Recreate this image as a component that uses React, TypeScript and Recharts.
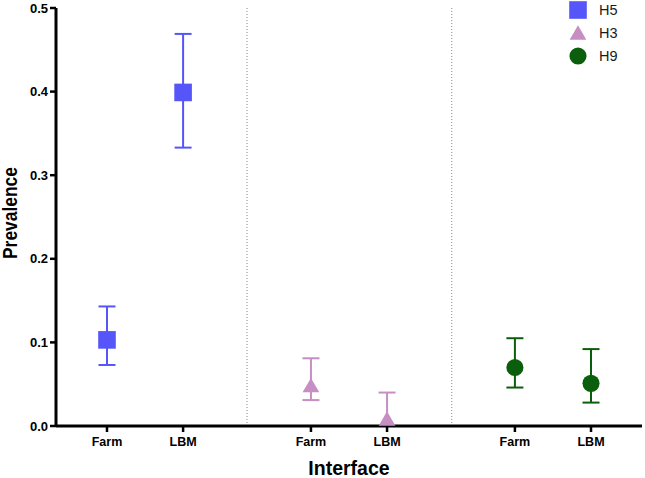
import React from 'react';
import { ScatterChart, Scatter, XAxis, YAxis, ErrorBar, ReferenceLine, Legend, Symbols } from 'recharts';

const FONT = '"Liberation Sans", Arial, Helvetica, sans-serif';

const categories = ['Farm', 'LBM'];
const seriesNames = ['H5', 'H3', 'H9'];
const seriesColors = ['#5555FA', '#C68EC2', '#0B5E0B'];
const seriesShapes = ['square', 'triangle', 'circle'];
const seriesSizes = [310, 121, 230];

// x positions of the category ticks of each interface group
const h5X = [0.67, 1.67];
const h3X = [3.35, 4.35];
const h9X = [6.03, 7.03];
const dividerPositions = [2.51, 5.2];

const h5Mean = [0.103, 0.399];
const h5Low = [0.073, 0.333];
const h5High = [0.143, 0.469];

const h3Mean = [0.046, 0.006];
const h3Low = [0.031, 0.0];
const h3High = [0.081, 0.04];

const h9Mean = [0.07, 0.051];
const h9Low = [0.046, 0.028];
const h9High = [0.105, 0.092];

const yTicks = [0, 0.1, 0.2, 0.3, 0.4, 0.5];

const build = (xs: number[], mean: number[], low: number[], high: number[]) =>
  categories.map((c, i) => ({
    label: c,
    x: xs[i],
    y: mean[i],
    err: [mean[i] - low[i], high[i] - mean[i]],
  }));

const seriesData = [
  build(h5X, h5Mean, h5Low, h5High),
  build(h3X, h3Mean, h3Low, h3High),
  build(h9X, h9Mean, h9Low, h9High),
];

const xTicks = [...h5X, ...h3X, ...h9X];
const xTickLabels = [...categories, ...categories, ...categories];

const YLabel = (props: any) => {
  const vb = props.viewBox || { x: 0, y: 8, width: 56, height: 418 };
  const cx = vb.x + 17;
  const cy = vb.y + vb.height / 2 - 4;
  return (
    <text
      x={cx}
      y={cy}
      transform={`rotate(-90, ${cx}, ${cy})`}
      textAnchor="middle"
      fontSize={19.5}
      fontWeight="bold"
      fontFamily={FONT}
      fill="#000"
      textLength={92}
      lengthAdjust="spacingAndGlyphs"
    >
      Prevalence
    </text>
  );
};

const LegendContent = () => (
  <div style={{ position: 'relative', width: 70, height: 70, fontFamily: FONT }}>
    {seriesNames.map((name, i) => (
      <div
        key={name}
        style={{ position: 'absolute', left: 0, top: i * 23 - 1.5, height: 23, display: 'flex', alignItems: 'center' }}
      >
        <svg width={20} height={20} style={{ display: 'block' }}>
          <Symbols
            cx={10}
            cy={i === 1 ? 12 : 10}
            type={seriesShapes[i] as any}
            size={seriesSizes[i]}
            fill={seriesColors[i]}
          />
        </svg>
        <span style={{ marginLeft: 11, fontSize: 14.5, color: '#1a1a1a', lineHeight: '23px' }}>{name}</span>
      </div>
    ))}
  </div>
);

const makeShape = (idx: number) => (props: any) => (
  <Symbols cx={props.cx} cy={props.cy} type={seriesShapes[idx] as any} size={seriesSizes[idx]} fill={seriesColors[idx]} />
);

export default function App() {
  return (
    <div style={{ position: 'absolute', left: 0, top: 0 }}>
      <ScatterChart width={645} height={478} margin={{ top: 8, right: 3, left: 0, bottom: 0 }}>
        <XAxis
          type="number"
          dataKey="x"
          domain={[0, 7.7]}
          ticks={xTicks}
          interval={0}
          tickFormatter={(v: number) => xTickLabels[xTicks.indexOf(v)] ?? ''}
          height={52}
          axisLine={{ stroke: '#000', strokeWidth: 3 }}
          tickLine={{ stroke: '#000', strokeWidth: 2.5 }}
          tickSize={6}
          tickMargin={5}
          tick={{ fill: '#000', fontSize: 12.5, fontWeight: 'bold', fontFamily: FONT }}
          label={{
            value: 'Interface',
            position: 'insideBottom',
            offset: 3,
            fontSize: 19.5,
            fontWeight: 'bold',
            fill: '#000',
            fontFamily: FONT,
          }}
        />
        <YAxis
          type="number"
          dataKey="y"
          domain={[0, 0.5]}
          ticks={yTicks}
          interval={0}
          tickFormatter={(v: number) => v.toFixed(1)}
          width={56}
          axisLine={{ stroke: '#000', strokeWidth: 3 }}
          tickLine={{ stroke: '#000', strokeWidth: 2.5 }}
          tickSize={6}
          tickMargin={2}
          tick={{ fill: '#000', fontSize: 13, fontWeight: 'bold', fontFamily: FONT }}
          label={<YLabel />}
        />
        {dividerPositions.map((d) => (
          <ReferenceLine key={d} x={d} stroke="#8a8a8a" strokeWidth={1} strokeDasharray="1 2" ifOverflow="extendDomain" />
        ))}
        <Legend
          layout="horizontal"
          verticalAlign="middle"
          align="center"
          content={<LegendContent />}
          wrapperStyle={{ position: 'absolute', left: 568, top: 0, width: 70, height: 70 }}
        />
        {seriesData.map((data, i) => (
          <Scatter
            key={seriesNames[i]}
            name={seriesNames[i]}
            data={data}
            fill={seriesColors[i]}
            shape={makeShape(i)}
            isAnimationActive={false}
          >
            <ErrorBar dataKey="err" direction="y" width={8.5} stroke={seriesColors[i]} strokeWidth={2} />
          </Scatter>
        ))}
      </ScatterChart>
    </div>
  );
}
